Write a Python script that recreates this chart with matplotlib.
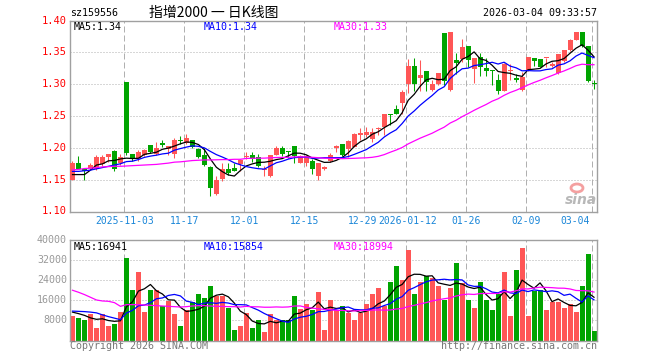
import numpy as np
import pandas as pd
import matplotlib
matplotlib.use('Agg')
import matplotlib.pyplot as plt
from matplotlib.patches import Ellipse

plt.rcParams['font.family'] = ['DejaVu Sans Mono', 'Noto Sans CJK SC']

# ---------------- data ----------------
opens = [1.150, 1.176, 1.166, 1.168, 1.167, 1.1745, 1.185, 1.195, 1.1755, 1.303,
         1.191, 1.182, 1.189, 1.204, 1.191, 1.207, 1.1975, 1.190, 1.213, 1.208,
         1.213, 1.198, 1.188, 1.170, 1.128, 1.1505, 1.166, 1.169, 1.1745, 1.1855,
         1.188, 1.185, 1.1646, 1.1557, 1.188, 1.1995, 1.1953, 1.2036, 1.1766, 1.1766,
         1.179, 1.1557, 1.1661, 1.1792, 1.2005, 1.206, 1.198, 1.202, 1.2208, 1.2203,
         1.2146, 1.2297, 1.2333, 1.2531, 1.2604, 1.2708, 1.300, 1.3286, 1.3104, 1.3203,
         1.2906, 1.300, 1.380, 1.2906, 1.338, 1.339, 1.3594, 1.3245, 1.3427, 1.326,
         1.323, 1.3073, 1.2896, 1.3203, 1.3104, 1.2906, 1.3219, 1.3417, 1.339, 1.3406,
         1.3286, 1.3177, 1.3365, 1.3531, 1.3688, 1.3813, 1.3594, 1.302]
highs = [1.180, 1.187, 1.167, 1.176, 1.188, 1.188, 1.191, 1.197, 1.191, 1.303,
         1.191, 1.196, 1.198, 1.204, 1.209, 1.212, 1.2035, 1.215, 1.219, 1.221,
         1.213, 1.2005, 1.1995, 1.171, 1.155, 1.1755, 1.1755, 1.1755, 1.182, 1.193,
         1.194, 1.191, 1.1715, 1.188, 1.2026, 1.2036, 1.1953, 1.2036, 1.189, 1.189,
         1.182, 1.1766, 1.1714, 1.192, 1.204, 1.2063, 1.2125, 1.223, 1.231, 1.232,
         1.231, 1.2323, 1.2531, 1.2531, 1.2667, 1.2906, 1.3396, 1.3406, 1.3375, 1.3203,
         1.3073, 1.3172, 1.380, 1.3818, 1.349, 1.371, 1.3594, 1.341, 1.349, 1.3417,
         1.323, 1.3167, 1.3333, 1.3323, 1.3156, 1.3188, 1.3422, 1.3417, 1.339, 1.3417,
         1.335, 1.348, 1.354, 1.3714, 1.3813, 1.3813, 1.3594, 1.3063]
lows = [1.149, 1.166, 1.150, 1.166, 1.165, 1.172, 1.177, 1.164, 1.173, 1.189,
        1.179, 1.179, 1.187, 1.192, 1.189, 1.2015, 1.188, 1.184, 1.206, 1.206,
        1.2005, 1.184, 1.171, 1.125, 1.1265, 1.148, 1.158, 1.163, 1.163, 1.183,
        1.177, 1.170, 1.1555, 1.1547, 1.188, 1.187, 1.184, 1.1766, 1.1755, 1.1714,
        1.159, 1.1495, 1.165, 1.1776, 1.194, 1.1865, 1.1855, 1.201, 1.2125, 1.2177,
        1.2094, 1.2198, 1.2203, 1.2354, 1.2531, 1.2531, 1.2854, 1.2885, 1.2885, 1.2885,
        1.2885, 1.2984, 1.298, 1.2885, 1.3167, 1.335, 1.327, 1.302, 1.3135, 1.3125,
        1.2984, 1.2844, 1.2885, 1.3063, 1.3031, 1.2896, 1.321, 1.328, 1.3265, 1.327,
        1.327, 1.3167, 1.3354, 1.352, 1.3688, 1.3583, 1.3031, 1.2917]
closes = [1.176, 1.167, 1.163, 1.173, 1.186, 1.185, 1.191, 1.166, 1.185, 1.192,
          1.182, 1.193, 1.197, 1.193, 1.2005, 1.205, 1.2025, 1.213, 1.2105, 1.215,
          1.2015, 1.186, 1.1725, 1.1375, 1.150, 1.167, 1.160, 1.164, 1.1805, 1.1865,
          1.183, 1.1715, 1.1656, 1.188, 1.1995, 1.191, 1.1932, 1.187, 1.187, 1.187,
          1.166, 1.1755, 1.1703, 1.188, 1.2016, 1.189, 1.2115, 1.221, 1.224, 1.225,
          1.225, 1.2313, 1.2531, 1.251, 1.2531, 1.2875, 1.3286, 1.300, 1.3146, 1.3031,
          1.300, 1.3172, 1.3042, 1.3818, 1.3333, 1.359, 1.3385, 1.341, 1.327, 1.321,
          1.321, 1.2896, 1.3323, 1.3214, 1.3063, 1.3115, 1.3422, 1.3365, 1.327, 1.3417,
          1.3323, 1.3469, 1.3531, 1.3688, 1.3813, 1.3594, 1.3047, 1.3005]
volumes = [9600, 9070, 8270, 10400, 4800, 10670, 5600, 6670, 11470, 32800,
           20270, 27200, 11200, 20000, 20270, 13870, 15600, 10670, 5600, 12000,
           15470, 18400, 16800, 21600, 17870, 17600, 13070, 4270, 5600, 10930,
           4800, 8270, 3470, 10670, 8000, 8000, 8270, 17600, 12670, 14670,
           12000, 19470, 4270, 16000, 12000, 13600, 10930, 8270, 10930, 14670,
           18400, 20800, 13600, 23470, 29470, 24270, 36000, 18670, 23200, 25870,
           25070, 21870, 16000, 20800, 30670, 22930, 16000, 13070, 23470, 16000,
           12000, 18670, 27200, 9600, 28000, 36800, 9870, 19730, 20270, 12270,
           15200, 15200, 12800, 14400, 11470, 21870, 34400, 3870]

# moving-average values at the start of the window (history not shown)
ma5_head = [1.158, 1.158, 1.158, 1.165]
ma10_head = [1.163, 1.163, 1.164, 1.165, 1.167, 1.169, 1.171, 1.173, 1.175]
ma30_head = [1.1655, 1.166, 1.1675, 1.168, 1.169, 1.170, 1.1705, 1.171, 1.171, 1.1715,
             1.172, 1.1725, 1.173, 1.1735, 1.174, 1.175, 1.176, 1.1775, 1.178, 1.179,
             1.180, 1.1805, 1.181, 1.181, 1.1812, 1.1815, 1.1815, 1.182, 1.182]
vma5_head = [11300, 10700, 10000, 9000]
vma10_head = [11700, 11600, 11500, 11300, 11000, 10200, 9500, 8900, 8300]
vma30_head = [20000, 19200, 18270, 17200, 16130, 15730, 15600, 15070, 13600, 14270,
              14270, 14270, 14130, 14000, 13870, 13730, 13600, 13470, 13330, 13470,
              13730, 13870, 13870, 13730, 13600, 13600, 13470, 13470, 13330]

date_labels = ['2025-11-03', '11-17', '12-01', '12-15', '12-29', '2026-01-12',
               '01-26', '02-09', '03-04']
date_index = [9, 19, 29, 39, 49, 56, 66, 76, 87]
price_ticks = [1.40, 1.35, 1.30, 1.25, 1.20, 1.15, 1.10]
vol_ticks = [40000, 32000, 24000, 16000, 8000]
price_ma_labels = ['MA5:1.34', 'MA10:1.34', 'MA30:1.33']
vol_ma_labels = ['MA5:16941', 'MA10:15854', 'MA30:18994']
code = 'sz159556'
title = '指增2000 一 日K线图'
stamp = '2026-03-04 09:33:57'

# ---------------- drawing ----------------
W, H = 660, 360
RED = '#ff5656'
GREEN = '#00a400'
GRID = '#b0b0b0'
FRAME = '#a0a0a0'
BLUE_TXT = '#1a86d8'

n = len(closes)
x = np.arange(n)
o = np.array(opens); c = np.array(closes); h = np.array(highs); l = np.array(lows)
v = np.array(volumes)
up = c >= o
colors = np.where(up, RED, GREEN)

def with_head(series, head, win):
    r = pd.Series(series).rolling(win).mean().to_numpy()
    r[:len(head)] = head
    return r

ma5 = with_head(closes, ma5_head, 5)
ma10 = with_head(closes, ma10_head, 10)
ma30 = with_head(closes, ma30_head, 30)
vma5 = with_head(volumes, vma5_head, 5)
vma10 = with_head(volumes, vma10_head, 10)
vma30 = with_head(volumes, vma30_head, 30)

fig = plt.figure(figsize=(W / 100, H / 100), dpi=100)
fig.patch.set_facecolor('white')

def rect(left, top, right, bottom):
    return [left / W, 1 - bottom / H, (right - left) / W, (bottom - top) / H]

def ftext(px, py, s, **kw):
    fig.text(px / W, 1 - py / H, s, **kw)

ax = fig.add_axes(rect(70, 20.5, 597, 211.5))
axv = fig.add_axes(rect(70, 240, 597, 340.5))

for a in (ax, axv):
    a.set_xlim(-5 / 12, 87 + 5 / 12 + 1 / 12)
    a.set_xticks([])
    a.set_yticks([])
    for s in a.spines.values():
        s.set_color(FRAME)
        s.set_linewidth(1)
    for i in date_index:
        a.axvline(i - 0.38, color=GRID, lw=0.72, ls=(0, (6, 3)), zorder=0)

ax.set_ylim(1.10, 1.40)
axv.set_ylim(0, 40000)
for p in price_ticks[1:-1]:
    ax.axhline(p, color=GRID, lw=0.72, ls=(0, (1, 2)), zorder=0)
for t in vol_ticks[1:]:
    axv.axhline(t, color=GRID, lw=0.72, ls=(0, (1, 2)), zorder=0)

# candles
bw = 5 / 6
ax.vlines(x, l, h, colors=colors, lw=0.75, zorder=2)
body_bottom = np.minimum(o, c)
body_h = np.maximum(np.abs(c - o), 0.0016)
ax.bar(x, body_h, bottom=body_bottom, width=bw, color=colors, linewidth=0, zorder=3)

ax.plot(x, ma5, color='black', lw=0.9, zorder=4)
ax.plot(x, ma10, color='#0000ff', lw=0.9, zorder=4)
ax.plot(x, ma30, color='#ff00ff', lw=0.9, zorder=4)

axv.bar(x, v, width=bw, color=colors, linewidth=0, zorder=2)
axv.plot(x, vma5, color='black', lw=0.9, zorder=4)
axv.plot(x, vma10, color='#0000ff', lw=0.9, zorder=4)
axv.plot(x, vma30, color='#ff00ff', lw=0.9, zorder=4)

# texts
ftext(70, 12.5, code, fontsize=7.2, ha='left', va='center', color='black')
ftext(214, 12.5, title, fontsize=10, ha='center', va='center', color='black',
      family=['Noto Sans CJK SC', 'DejaVu Sans'])
ftext(597, 12.5, stamp, fontsize=7.2, ha='right', va='center', color='black')

for p in price_ticks:
    py = 20.5 + (1.40 - p) / 0.30 * 191
    ftext(67, py, f'{p:.2f}', fontsize=7.5, ha='right', va='center', color='#ff0000')
for t in vol_ticks:
    py = 240 + (40000 - t) / 40000 * 100.5
    ftext(67, py, str(t), fontsize=7.2, ha='right', va='center', color='#999999')

ma_cols = ['black', '#0000ff', '#ff00ff']
ma_x = [74, 204, 334]
for s, col, px in zip(price_ma_labels, ma_cols, ma_x):
    ftext(px, 27, s, fontsize=7.2, ha='left', va='center', color=col)
for s, col, px in zip(vol_ma_labels, ma_cols, ma_x):
    ftext(px, 246.5, s, fontsize=7.2, ha='left', va='center', color=col)

# date labels (the 12-29 / 2026-01-12 pair sits very close, as in the reference)
shift = {'12-29': -1.5, '2026-01-12': 1.5}
for lab, i in zip(date_labels, date_index):
    px = 70 + (i - 0.38 + 5 / 12) * 6 + shift.get(lab, 0)
    if i == date_index[-1]:
        ftext(590, 221, lab, fontsize=7.0, ha='right', va='center', color=BLUE_TXT)
    else:
        ftext(px, 221, lab, fontsize=7.0, ha='center', va='center', color=BLUE_TXT)

ftext(70, 346, 'Copyright 2026 SINA.COM', fontsize=7.2, ha='left', va='center', color='#777777')
ftext(597, 346, 'http://finance.sina.com.cn', fontsize=7.2, ha='right', va='center', color='#777777')

# sina watermark
ftext(581, 200, 'sina', fontsize=10, ha='center', va='center', color='#b8b8b8',
      fontweight='bold', style='italic', family=['DejaVu Sans'])
fig.patches.append(Ellipse((577 / W, 1 - 188 / H), 12 / W, 8 / H, transform=fig.transFigure,
                           facecolor='none', edgecolor='#f4a0a0', lw=2))

fig.savefig('out.png', dpi=100, facecolor='white')
